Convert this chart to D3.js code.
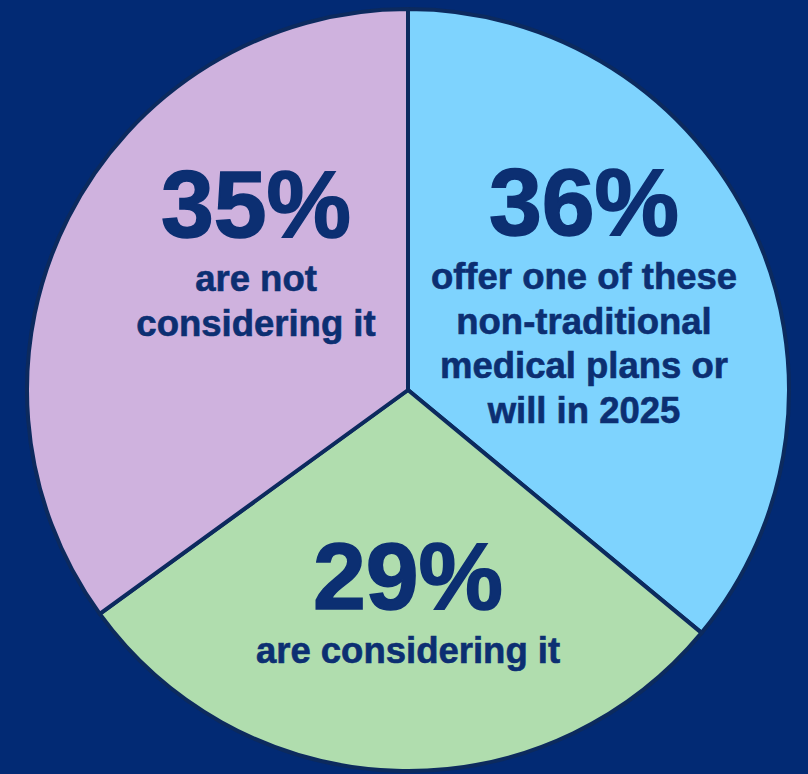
<!DOCTYPE html>
<html>
<head>
  <meta charset="utf-8">
  <title>Non-traditional medical plans</title>
<script src="https://d3js.org/d3.v7.min.js"></script>
  <style>
    html, body { margin: 0; padding: 0; background: #022a74; }
    svg { display: block; }
    .big {
      font: bold 95px "Liberation Sans", Arial, sans-serif;
      fill: #0c2f72; stroke: #0c2f72; stroke-width: 1.6px;
    }
    .small {
      font: bold 36.5px "Liberation Sans", Arial, sans-serif;
      fill: #0c2f72; stroke: #0c2f72; stroke-width: 0.6px;
    }
  </style>
</head>
<body>
  <script>
    // slices, clockwise from 12 o'clock
    const shares = [36, 29, 35];
    const bigLabels = ["36%", "29%", "35%"];
    const captions = [
      ["offer one of these", "non-traditional", "medical plans or", "will in 2025"],
      ["are considering it"],
      ["are not", "considering it"]
    ];
    const sliceColors = ["#7ed3fe", "#b0ddae", "#cfb2de"];

    // label anchors (baseline of the big number) relative to pie centre
    const labelAnchor = [[176, -155], [0, 219], [-152, -153]];

    const width = 808, height = 774;
    const cx = 408, cy = 390, radius = 381;

    const svg = d3.select("body").append("svg")
        .attr("width", width)
        .attr("height", height);

    const g = svg.append("g")
        .attr("transform", "translate(" + cx + "," + cy + ")");

    const pie = d3.pie().sort(null).value(d => d);
    const arc = d3.arc().innerRadius(0).outerRadius(radius);
    const arcs = pie(shares);

    g.selectAll(".slice")
        .data(arcs)
        .enter().append("path")
        .attr("class", "slice")
        .attr("d", arc)
        .attr("fill", (d, i) => sliceColors[i])
        .attr("stroke", "#0c2a5e")
        .attr("stroke-width", 4)
        .attr("stroke-linejoin", "round");

    const label = g.selectAll(".label")
        .data(arcs)
        .enter().append("g")
        .attr("class", "label")
        .attr("transform", (d, i) => "translate(" + labelAnchor[i][0] + "," + labelAnchor[i][1] + ")");

    label.append("text")
        .attr("class", "big")
        .attr("text-anchor", "middle")
        .text((d, i) => bigLabels[i]);

    label.each(function(d, i) {
      d3.select(this).selectAll(".small")
          .data(captions[i])
          .enter().append("text")
          .attr("class", "small")
          .attr("text-anchor", "middle")
          .attr("y", (t, j) => 54 + j * 44.7)
          .text(t => t);
    });
  </script>
</body>
</html>
